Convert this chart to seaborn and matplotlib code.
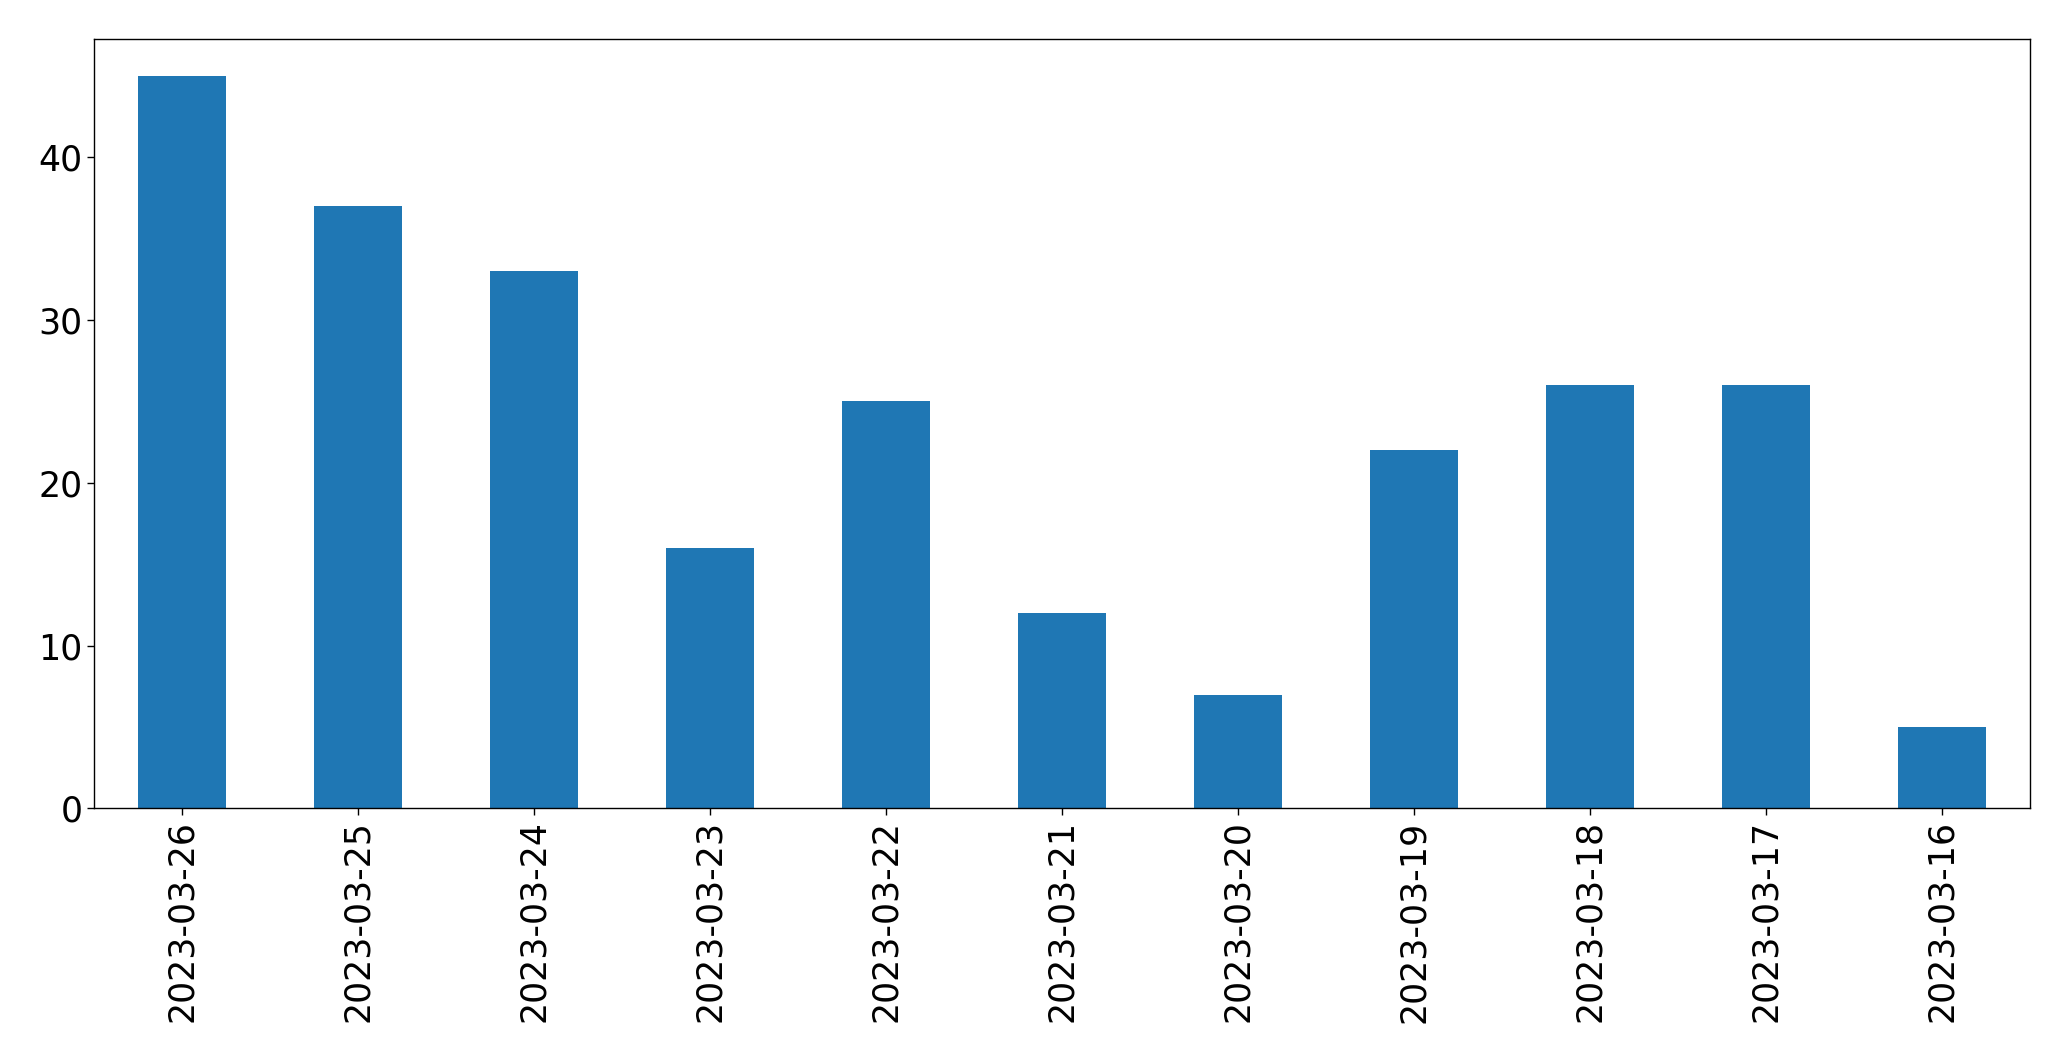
import pandas as pd
import matplotlib
matplotlib.use("Agg")
import matplotlib.pyplot as plt
import seaborn as sns

# Daily counts, newest first (as in the original chart)
dates = ['2023-03-26', '2023-03-25', '2023-03-24', '2023-03-23', '2023-03-22', '2023-03-21',
         '2023-03-20', '2023-03-19', '2023-03-18', '2023-03-17', '2023-03-16']
counts = [45, 37, 33, 16, 25, 12, 7, 22, 26, 26, 5]

df = pd.DataFrame({'date': dates, 'count': counts})

sns.set_style('white')
plt.rcParams['font.family'] = ['DejaVu Sans']

fig, ax = plt.subplots(figsize=(20.71, 10.61), dpi=100)
fig.subplots_adjust(left=0.0455, right=0.980, top=0.963, bottom=0.238)

sns.barplot(data=df, x='date', y='count', order=dates, color='#1f77b4', saturation=1,
            width=0.5, linewidth=0, ax=ax)

ax.set_xlabel('')
ax.set_ylabel('')
ax.set_xlim(-0.5, len(dates) - 0.5)
ax.tick_params(axis='both', labelsize=25, length=5, width=1, direction='out',
               bottom=True, left=True, colors='black')
ax.tick_params(axis='x', labelrotation=90)
for s in ax.spines.values():
    s.set_color('black')
    s.set_linewidth(1)

plt.savefig('out.png', dpi=100)
